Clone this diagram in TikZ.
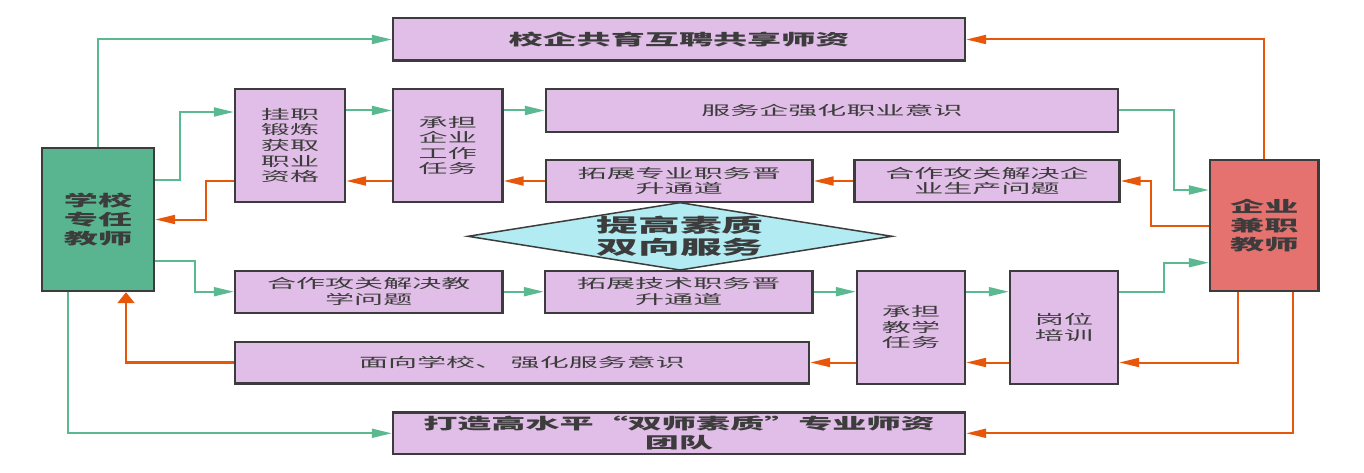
\documentclass[tikz,border=0pt]{standalone}
\usepackage{fontspec}
\newfontfamily\cjk[FakeStretch=2.2]{Noto Sans CJK SC}
\usetikzlibrary{arrows.meta,calc}
\definecolor{boxfill}{RGB}{225,190,231}
\definecolor{schoolcol}{RGB}{88,181,143}
\definecolor{firmcol}{RGB}{230,114,112}
\definecolor{diacol}{RGB}{178,235,242}
\definecolor{gcol}{RGB}{90,185,145}
\definecolor{ocol}{RGB}{232,86,10}
\definecolor{bordercol}{RGB}{60,60,60}
\definecolor{textcol}{RGB}{60,60,60}
\begin{document}
\begin{tikzpicture}[x=1pt,y=-1pt,
  box/.style={draw=bordercol, line width=2.4pt, fill=boxfill, rectangle, inner sep=0pt,
    align=center, text=textcol, font=\cjk\fontsize{13.2}{15.6}\selectfont},
  bbox/.style={box, font=\cjk\bfseries\fontsize{15.5}{18.6}\selectfont},
  gline/.style={draw=gcol, line width=2pt, -{Triangle[length=20pt,width=9pt]}},
  oline/.style={draw=ocol, line width=2pt, -{Triangle[length=20pt,width=9pt]}},
  ouline/.style={draw=ocol, line width=2.4pt, -{Triangle[length=11pt,width=17pt]}},
]
\useasboundingbox (0,0) rectangle (1364,473);

% boxes
\node[bbox, minimum width=572pt, minimum height=42.4pt] (top) at (679,39.5) {校企共育互聘共享师资};
\node[box, minimum width=110pt, minimum height=113pt] (gua) at (290,145.5) {挂职\\锻炼\\获取\\职业\\资格};
\node[box, minimum width=109.5pt, minimum height=113pt] (cd1) at (447.75,145.5) {承担\\企业\\工作\\任务};
\node[box, minimum width=572pt, minimum height=43pt] (fw) at (832,110.5) {服务企强化职业意识};
\node[box, minimum width=266.5pt, minimum height=42pt] (tz1) at (679.25,181) {拓展专业职务晋\\升通道};
\node[box, minimum width=265pt, minimum height=42pt] (hz1) at (987,181) {合作攻关解决企\\业生产问题};
\node[bbox, fill=schoolcol, minimum width=112pt, minimum height=143pt] (school) at (98,219.5) {学校\\专任\\教师};
\node[bbox, fill=firmcol, minimum width=108.6pt, minimum height=131pt] (firm) at (1264.3,225.5) {企业\\兼职\\教师};
\node[box, minimum width=267.5pt, minimum height=42pt] (hz2) at (368.75,291.7) {合作攻关解决教\\学问题};
\node[box, minimum width=267.5pt, minimum height=42pt] (tz2) at (678.75,291.7) {拓展技术职务晋\\升通道};
\node[box, minimum width=108pt, minimum height=113.3pt] (cd2) at (911,327.35) {承担\\教学\\任务};
\node[box, minimum width=108pt, minimum height=113.3pt] (gw) at (1064,327.35) {岗位\\培训};
\node[box, minimum width=574pt, minimum height=41.6pt] (mx) at (522,362.5) {面向学校、 强化服务意识};
\node[bbox, minimum width=572pt, minimum height=41.3pt] (bot) at (679,433.3) {打造高水平“双师素质”专业师资\\团队};

% diamond
\path[draw=bordercol, line width=1.5pt, fill=diacol] (468,236.3) -- (680,202.7) -- (892,236.3) -- (680,270) -- cycle;
\node[text=textcol, align=center, inner sep=0pt, font=\cjk\bfseries\fontsize{19}{22}\selectfont] (dia) at (680,236.3) {提高素质\\双向服务};

% green connectors (school side)
\draw[gline] (school.north) |- (top.west);
\draw[gline] ([yshift=39.5pt]school.east) -- (180,180) |- ([yshift=33.5pt]gua.west);
\draw[gline] (gua.east |- fw.west) -- (cd1.west |- fw.west);
\draw[gline] (cd1.east |- fw.west) -- (fw.west);
\draw[gline] (fw.east) -- (1174,110.5) |- ([yshift=35.5pt]firm.west);
\draw[gline] ([yshift=-41.2pt]school.east) -- (195,260.7) |- (hz2.west);
\draw[gline] (hz2.east) -- (tz2.west);
\draw[gline] (tz2.east) -- (tz2.east -| cd2.west);
\draw[gline] (tz2.east -| cd2.east) -- (tz2.east -| gw.west);
\draw[gline] (tz2.east -| gw.east) -- (1163.6,291.7) |- ([yshift=-37.2pt]firm.west);
\draw[gline] ([xshift=-30pt]school.south) |- (bot.west);

% orange connectors (firm side)
\draw[oline] (firm.north) |- (top.east);
\draw[oline] (firm.west) -- (1151,225.5) |- (hz1.east);
\draw[oline] (hz1.west) -- (tz1.east);
\draw[oline] (tz1.west) -- (tz1.west -| cd1.east);
\draw[oline] (tz1.west -| cd1.west) -- (tz1.west -| gua.east);
\draw[oline] (tz1.west -| gua.west) -- (206,181) |- (school.east);
\draw[oline] ([xshift=-26.3pt]firm.south) |- (gw.east |- mx.east);
\draw[oline] (gw.west |- mx.east) -- (cd2.east |- mx.east);
\draw[oline] (cd2.west |- mx.east) -- (mx.east);
\draw[ouline] (mx.west) -| ([xshift=28pt]school.south);
\draw[oline] ([xshift=28.7pt]firm.south) |- (bot.east);
\end{tikzpicture}
\end{document}
